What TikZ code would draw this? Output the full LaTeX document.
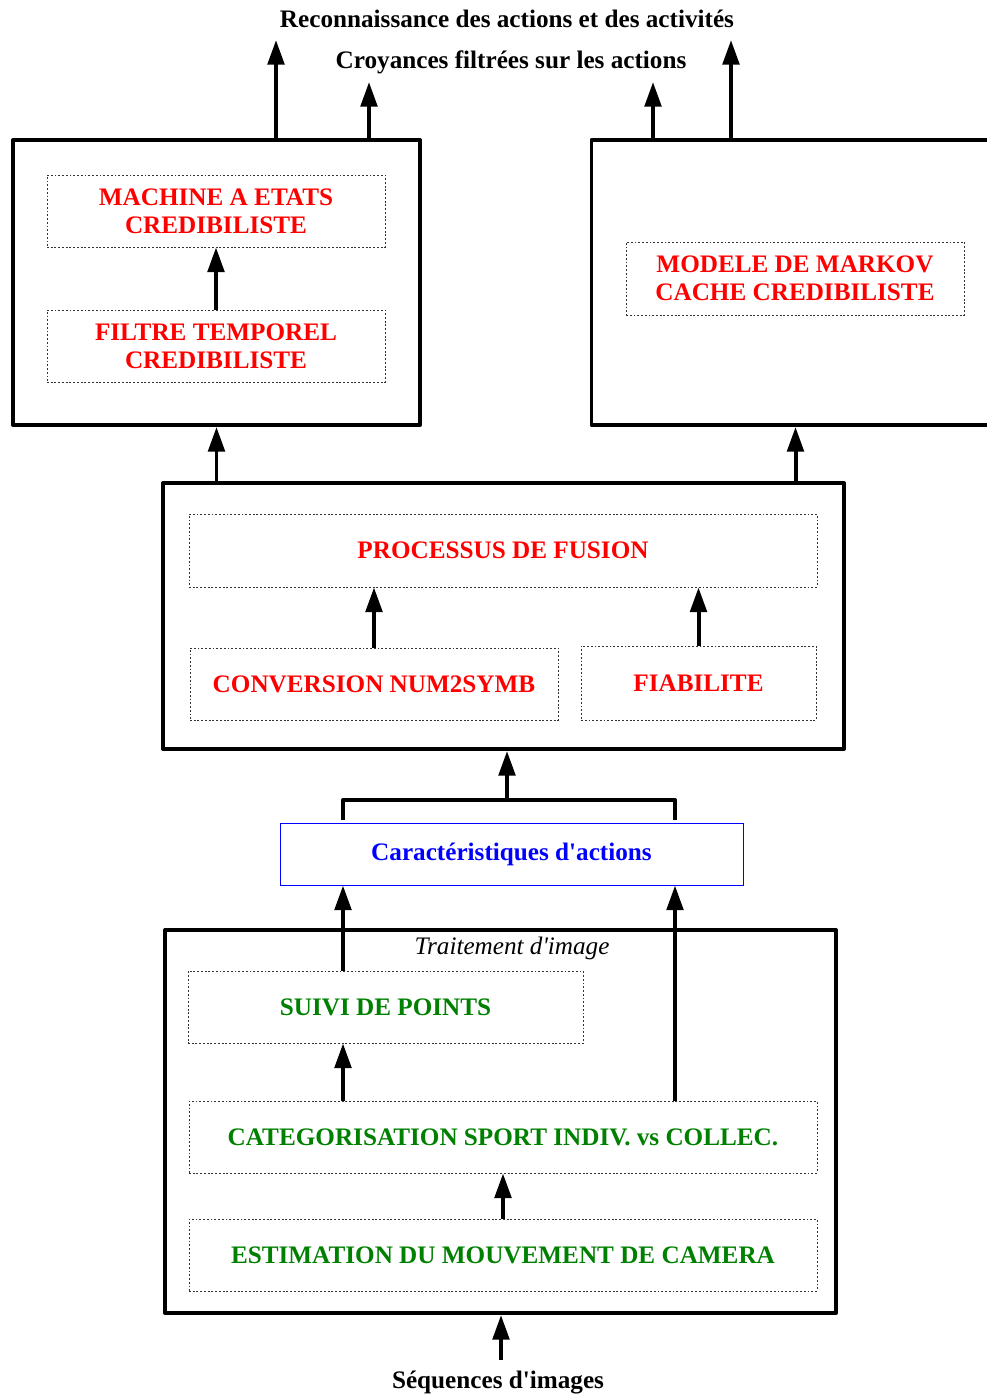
\documentclass[tikz,border=0pt]{standalone}
\usepackage{fontspec}
\setmainfont{Liberation Serif}
\usetikzlibrary{arrows.meta}
\definecolor{vert}{rgb}{0,0.5,0}

\begin{document}
\begin{tikzpicture}[x=0.3mm,y=-0.3mm,
  txt/.style={font=\fontsize{21.5}{24}\selectfont\bfseries},
  bigbox/.style={draw,line width=3.4pt,line join=round},
  subbox/.style={draw=black!80,line width=0.7pt,dash pattern=on 1.6pt off 1.6pt,txt,align=center},
  arr/.style={line width=3.4pt,-{Triangle[length=21pt,width=14pt]}},
  bus/.style={line width=3.4pt,line join=round}]
\useasboundingbox (0,0) rectangle (987,1397);

% bloc gauche
\node[bigbox,minimum width=12.21cm,minimum height=8.55cm] (left) at (216.5,282.5) {};
\node[subbox,text=red,minimum width=10.14cm,minimum height=2.16cm] (machine) at (216,211) {MACHINE A ETATS\\CREDIBILISTE};
\node[subbox,text=red,minimum width=10.14cm,minimum height=2.16cm] (filtre) at (216,346) {FILTRE TEMPOREL\\CREDIBILISTE};
\draw[arr] (filtre.north) -- (machine.south);

% bloc droit
\node[bigbox,minimum width=12.24cm,minimum height=8.55cm] (right) at (795.5,282.5) {};
\node[subbox,text=red,minimum width=10.14cm,minimum height=2.19cm] (markov) at (795,278.5) {MODELE DE MARKOV\\CACHE CREDIBILISTE};

% sorties
\node[txt] (reco) at (507,19) {Reconnaissance des actions et des activit\'es};
\node[txt] (croy) at (511,62) {Croyances filtr\'ees sur les actions};
\coordinate (recoL) at (276,40);
\coordinate (croyL) at (369,82);
\coordinate (croyR) at (653,82);
\coordinate (recoR) at (731,40);
\draw[arr] (left.north -| recoL) -- (recoL);
\draw[arr] (left.north -| croyL) -- (croyL);
\draw[arr] (right.north -| croyR) -- (croyR);
\draw[arr] (right.north -| recoR) -- (recoR);

% fusion
\node[bigbox,minimum width=20.43cm,minimum height=7.98cm] (mid) at (503.5,616) {};
\node[subbox,text=red,minimum width=18.84cm,minimum height=2.19cm] (proc) at (503,550.5) {PROCESSUS DE FUSION};
\node[subbox,text=red,minimum width=11.04cm,minimum height=2.16cm] (conv) at (374,684) {CONVERSION NUM2SYMB};
\node[subbox,text=red,minimum width=7.05cm,minimum height=2.22cm] (fiab) at (698.5,683) {FIABILITE};
\draw[arr] (conv.north) -- (conv.north |- proc.south);
\draw[arr] (fiab.north) -- (fiab.north |- proc.south);
\draw[arr] (mid.north -| left.south) -- (left.south);
\draw[arr] (mid.north -| right.south) -- (right.south);

% caracteristiques
\node[draw=blue,line width=0.8pt,txt,text=blue,minimum width=13.89cm,minimum height=1.86cm] (caract) at (511.5,854) {Caract\'eristiques d\textquotesingle actions};
\coordinate (colL) at (343,0);
\coordinate (colR) at (675,0);
\coordinate (fork) at (507,800);
\draw[bus] ([yshift=2pt]caract.north -| colL) |- (fork) -| ([yshift=2pt]caract.north -| colR);
\draw[arr] (fork) -- (fork |- mid.south);

% traitement d'image
\node[bigbox,minimum width=20.13cm,minimum height=11.49cm] (bottom) at (500.5,1121.5) {};
\node[font=\fontsize{21.5}{24}\selectfont\itshape] (trait) at (512,948) {Traitement d\textquotesingle image};
\node[subbox,text=vert,minimum width=11.85cm,minimum height=2.16cm] (suivi) at (385.5,1007) {SUIVI DE POINTS};
\node[subbox,text=vert,minimum width=18.84cm,minimum height=2.16cm] (categ) at (503,1137) {CATEGORISATION SPORT INDIV. vs COLLEC.};
\node[subbox,text=vert,minimum width=18.84cm,minimum height=2.16cm] (estim) at (503,1255) {ESTIMATION DU MOUVEMENT DE CAMERA};
\draw[arr] (suivi.north -| colL) -- (caract.south -| colL);
\draw[arr] (categ.north -| colR) -- (caract.south -| colR);
\draw[arr] (categ.north -| colL) -- (suivi.south -| colL);
\draw[arr] (estim.north) -- (categ.south);

% entree
\node[txt] (seq) at (498,1383) {S\'equences d\textquotesingle images};
\coordinate (seqUp) at (501,1360);
\draw[arr] (seqUp) -- (seqUp |- bottom.south);
\end{tikzpicture}
\end{document}
